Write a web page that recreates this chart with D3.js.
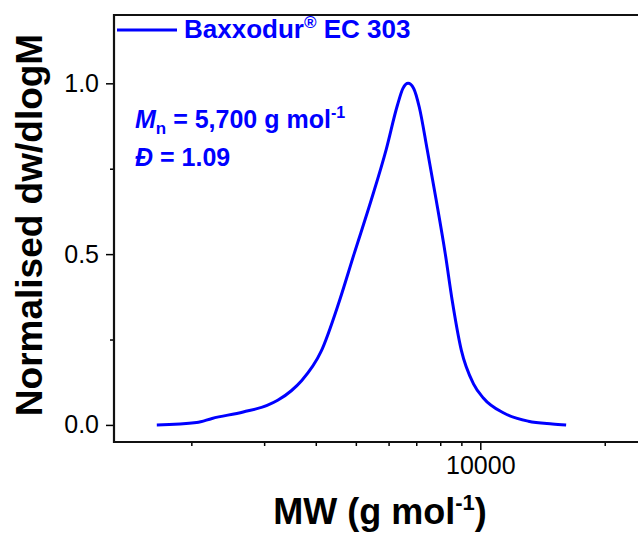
<!DOCTYPE html>
<html lang="en">
<head>
  <meta charset="utf-8">
  <title>Baxxodur EC 303 GPC</title>
  <script type="text/javascript" src="https://d3js.org/d3.v7.min.js"></script>
  <style type="text/css">
  body {
    margin: 0;
    background: white;
    font-family: 'Liberation Sans', Arial, sans-serif;
  }
  </style>
</head>
<body>
<script type="text/javascript">
// molecular weight (g/mol) and normalised dw/dlogM
var mw = [1650, 2060, 2245, 2670, 3050, 3235, 3490, 3700, 4120, 4560, 4950, 5450, 5920, 6300,
          6500, 6690, 6900, 7120, 7440, 7820, 8230, 8550, 9000, 9620, 10170, 11430, 13070, 14940, 16130];
var dw = [0.0, 0.007, 0.019, 0.038, 0.057, 0.072, 0.1, 0.13, 0.215, 0.362, 0.5, 0.659, 0.806, 0.935,
          0.985, 1.0, 0.985, 0.93, 0.806, 0.659, 0.5, 0.365, 0.218, 0.121, 0.079, 0.034, 0.011, 0.003, 0.0];

var xMajor = [10000];
var xMinor = [2000, 3000, 4000, 5000, 6000, 7000, 8000, 9000, 20000];
var yMajor = [0.0, 0.5, 1.0];
var yMinor = [0.25, 0.75];

var w = 638;
var h = 533;
var blue = "#0000ff";

var svg = d3.select("body")
  .append("svg")
  .attr("width", w)
  .attr("height", h)
  .style("font-family", "'Liberation Sans', Arial, sans-serif");

// plot box (right edge runs past the picture, like the original crop)
var pL = 114, pT = 15, pB = 442, pR = 700;

var x = d3.scaleLog()
  .domain([1300, 34000])
  .range([pL, pR]);

var y = d3.scaleLinear()
  .domain([-0.05, 1.2])
  .range([pB, pT]);

// x axis
svg.append("g")
  .attr("transform", "translate(0," + pB + ")")
  .call(d3.axisBottom(x).tickValues(xMajor).tickSize(8).tickPadding(6).tickFormat(d3.format("d")));
svg.append("g")
  .attr("transform", "translate(0," + pB + ")")
  .call(d3.axisBottom(x).tickValues(xMinor).tickSize(4).tickFormat(""));

// y axis
svg.append("g")
  .attr("transform", "translate(" + pL + ",0)")
  .call(d3.axisLeft(y).tickValues(yMajor).tickSize(8).tickPadding(7).tickFormat(d3.format(".1f")));
svg.append("g")
  .attr("transform", "translate(" + pL + ",0)")
  .call(d3.axisLeft(y).tickValues(yMinor).tickSize(4).tickFormat(""));

svg.selectAll(".domain").remove();
svg.selectAll(".tick line").attr("stroke", "#000").attr("stroke-width", 1.5);
svg.selectAll(".tick text")
  .attr("fill", "#000")
  .style("font-size", "25px")
  .style("font-family", "'Liberation Sans', Arial, sans-serif");

// frame
svg.append("path")
  .attr("d", "M" + pR + "," + pT + "H" + pL + "V" + pB + "H" + pR)
  .attr("fill", "none")
  .attr("stroke", "#111")
  .attr("stroke-width", 2.2);

// curve
var line = d3.line()
  .x(function(d, i) { return x(mw[i]); })
  .y(function(d) { return y(d); })
  .curve(d3.curveMonotoneX);

svg.append("path")
  .datum(dw)
  .attr("d", line)
  .attr("fill", "none")
  .attr("stroke", blue)
  .attr("stroke-width", 3);

// legend
svg.append("line")
  .attr("x1", 117).attr("x2", 177)
  .attr("y1", 30).attr("y2", 30)
  .attr("stroke", blue)
  .attr("stroke-width", 3);

var leg = svg.append("text")
  .attr("x", 184).attr("y", 38)
  .attr("fill", blue)
  .style("font-size", "26px")
  .style("font-weight", "bold");
leg.append("tspan").text("Baxxodur");
leg.append("tspan").attr("dy", -10).style("font-size", "17px").text("\u00AE");
leg.append("tspan").attr("dy", 10).text(" EC 303");

// annotations
var mn = svg.append("text")
  .attr("x", 135).attr("y", 128)
  .attr("fill", blue)
  .style("font-size", "25px")
  .style("font-weight", "bold");
mn.append("tspan").style("font-style", "italic").text("M");
mn.append("tspan").attr("dy", 6).style("font-size", "17px").text("n");
mn.append("tspan").attr("dy", -6).text(" = 5,700 g mol");
mn.append("tspan").attr("dy", -10).style("font-size", "16px").text("-1");

svg.append("text")
  .attr("x", 135).attr("y", 166)
  .attr("fill", blue)
  .style("font-size", "25px")
  .style("font-weight", "bold")
  .html("<tspan font-style='italic'>\u0110</tspan> = 1.09");

// axis titles
svg.append("text")
  .attr("transform", "translate(42,225) rotate(-90)")
  .attr("text-anchor", "middle")
  .style("font-size", "37px")
  .style("font-weight", "bold")
  .text("Normalised dw/dlogM");

var xt = svg.append("text")
  .attr("x", 380).attr("y", 524)
  .attr("text-anchor", "middle")
  .style("font-size", "36px")
  .style("font-weight", "bold");
xt.append("tspan").text("MW (g mol");
xt.append("tspan").attr("dy", -14).style("font-size", "22px").text("-1");
xt.append("tspan").attr("dy", 14).text(")");
</script>
</body>
</html>
